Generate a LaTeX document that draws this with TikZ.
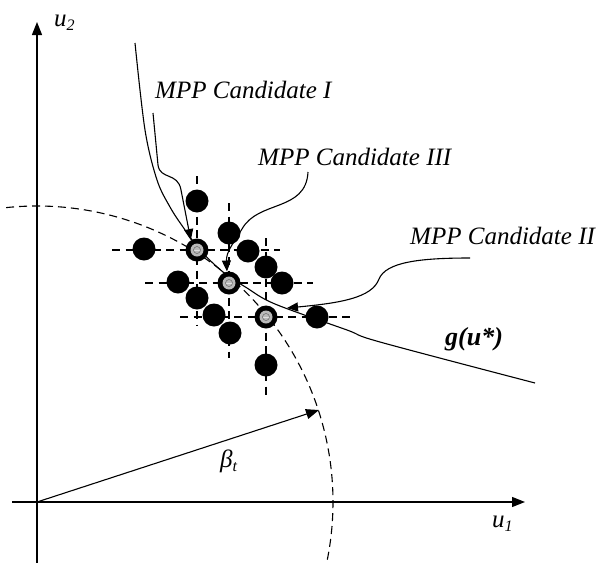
\documentclass[tikz,border=0pt]{standalone}
\usepackage{fontspec}
\setmainfont{Liberation Serif}
\usetikzlibrary{arrows.meta}
\begin{document}
\begin{tikzpicture}[x=1pt,y=-1pt,
  axisline/.style={line width=1.3pt},
  bigtip/.style={-{Triangle[length=13pt,width=10pt]}},
  smalltip/.style={-{Triangle[length=11pt,width=9pt]}},
  curveline/.style={line width=1.1pt},
  crossline/.style={dash pattern=on 8pt off 5.5pt, line width=1.1pt},
  circline/.style={dash pattern=on 8pt off 5pt, line width=1.1pt},
  dot/.style={circle, fill=black, minimum size=23pt, inner sep=0pt},
  cand/.style={circle, fill=black, minimum size=23pt, inner sep=0pt,
    path picture={
      \fill[gray!55] (path picture bounding box.center) circle (6.5pt);
      \draw[gray!25, line width=0.8pt] ([xshift=-3.5pt]path picture bounding box.center) -- ([xshift=3.5pt]path picture bounding box.center);
      \draw[black!60, line width=0.5pt] (path picture bounding box.center) circle (3.5pt);
    }},
  lab/.style={font=\fontsize{25}{28}\selectfont\itshape, inner sep=0pt, anchor=base west},
  axlab/.style={font=\fontsize{25}{28}\selectfont\itshape, inner sep=0pt, anchor=base west}
]
\useasboundingbox (0,0) rectangle (598,563);

% origin and axes
\coordinate (O) at (37,502);
\coordinate (ybot) at (37,563);
\coordinate (ytop) at (37,22);
\coordinate (xleft) at (12,502);
\coordinate (xright) at (525,502);
\draw[axisline] (ybot) -- (O);
\draw[axisline,bigtip] (O) -- (ytop);
\draw[axisline] (xleft) -- (O);
\draw[axisline,bigtip] (O) -- (xright);
\node[axlab] (u2) at (54,26) {u\raisebox{-4pt}{\fontsize{16}{18}\selectfont 2}};
\node[axlab] (u1) at (492,527) {u\raisebox{-4pt}{\fontsize{16}{18}\selectfont 1}};

% dashed beta circle
\draw[circline] (O) ++(-96:296) arc[start angle=-96, end angle=13, radius=296];

% beta arrow
\coordinate (betaend) at (319,410);
\draw[curveline,bigtip] (O) -- (betaend);
\node[axlab] (beta) at (220,467) {β\raisebox{-4pt}{\fontsize{16}{18}\selectfont t}};

% dashed crosses
\draw[crossline] (112,250) -- (280,250);
\draw[crossline] (197,176) -- (197,325);
\draw[crossline] (145,283) -- (313,283);
\draw[crossline] (229,203) -- (229,358);
\draw[crossline] (180,317) -- (350,317);
\draw[crossline] (266,238) -- (266,395);

% limit state curve
\draw[curveline] plot[smooth, tension=0.55] coordinates {(135,43) (145,130) (157,180) (170,207) (183,227) (200,250) (223,272) (247,288) (275,304) (347,330) (380,342) (535,383)};
\node[font=\fontsize{26}{28}\selectfont\bfseries\itshape, inner sep=0pt, anchor=base west] (g) at (445,345) {g(u*)};

% labels
\node[lab] (labI) at (155,98) {MPP Candidate I};
\node[lab] (labIII) at (258,165) {MPP Candidate III};
\node[lab] (labII) at (410,244) {MPP Candidate II};

% candidates
\node[cand] (candI) at (197,250) {};
\node[cand] (candIII) at (229,283) {};
\node[cand] (candII) at (266,317) {};

% pointers
\coordinate (sI) at (153,113);
\coordinate (sIII) at (308,172);
\coordinate (sII) at (470,258);
\coordinate (tII) at (287,308);
\draw[curveline,smalltip] (sI) -- (158,165) .. controls (160,180) and (178,172) .. (181,190) -- (candI.122);
\draw[curveline,smalltip] (sIII) .. controls (306,212) and (258,200) .. (242,229) .. controls (234,242) and (226,252) .. (candIII.100);
\draw[curveline,smalltip] (sII) .. controls (420,258) and (386,262) .. (379,279) .. controls (372,298) and (340,303) .. (tII);

% other sample points
\node[dot] (p1) at (197,201) {};
\node[dot] (p2) at (144,249) {};
\node[dot] (p4) at (229,233) {};
\node[dot] (p5) at (248,251) {};
\node[dot] (p6) at (266,267) {};
\node[dot] (p7) at (282,283) {};
\node[dot] (p8) at (178,282) {};
\node[dot] (p10) at (197,298) {};
\node[dot] (p11) at (214,315) {};
\node[dot] (p12) at (230,333) {};
\node[dot] (p14) at (317,317) {};
\node[dot] (p15) at (266,365) {};
\end{tikzpicture}
\end{document}
